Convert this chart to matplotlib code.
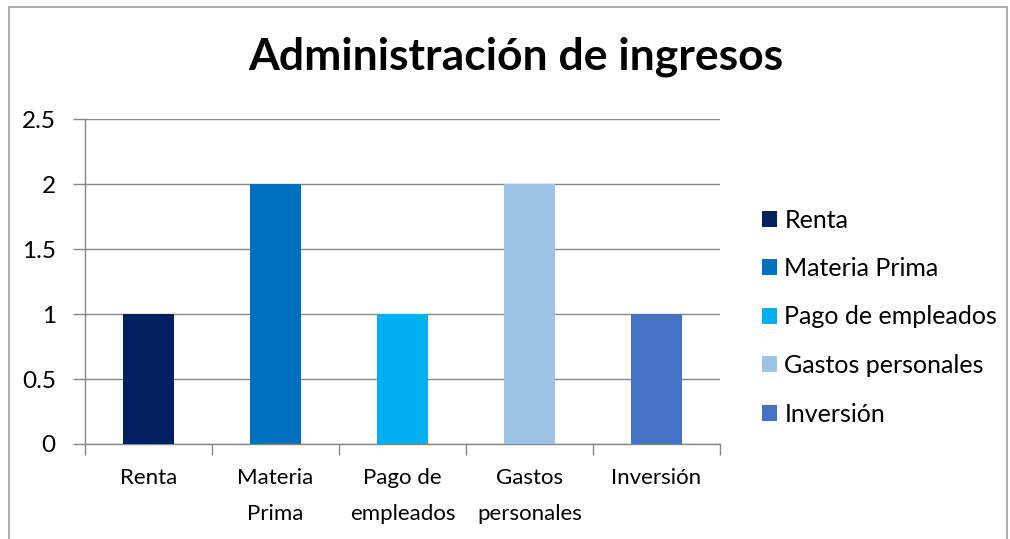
import numpy as np
import matplotlib.pyplot as plt
from matplotlib.patches import Rectangle

categories = ['Renta', 'Materia Prima', 'Pago de empleados', 'Gastos personales', 'Inversión']
tick_labels = ['Renta', 'Materia\nPrima', 'Pago de\nempleados', 'Gastos\npersonales', 'Inversión']
values = [1, 2, 1, 2, 1]
y_ticks = [0, 0.5, 1, 1.5, 2, 2.5]

bar_colors = ['#002060', '#0070C0', '#00B0F0', '#9DC3E6', '#4472C4']

plt.rcParams['font.family'] = ['Lato', 'DejaVu Sans']

fig = plt.figure(figsize=(10.1, 5.39), dpi=100)
W, H = 1010, 539

# chart border
fig.patches.append(Rectangle((9 / W, -0.05), 998 / W, 1.05 - 7 / H, transform=fig.transFigure,
                             fill=False, edgecolor='#A6A6A6', lw=1.3))

ax = fig.add_axes([85 / W, 1 - 444 / H, 635 / W, 325 / H])
x = np.arange(len(categories))
for i, (cat, val) in enumerate(zip(categories, values)):
    ax.bar(x[i], val, width=0.4, color=bar_colors[i], label=cat, zorder=3)

ax.set_xlim(-0.5, len(categories) - 0.5)
ax.set_ylim(0, 2.5)
ax.set_yticks(y_ticks)
ax.set_yticklabels(['0', '0.5', '1', '1.5', '2', '2.5'])
ax.yaxis.grid(True, color='#878787', lw=1.0, zorder=0)
ax.tick_params(axis='y', length=9, color='#878787', width=1.0, labelsize=17.5, pad=12)

# category boundaries as ticks, labels in between
ax.set_xticks(np.arange(len(categories) + 1) - 0.5)
ax.set_xticklabels([])
ax.tick_params(axis='x', which='major', length=8, color='#878787', width=1.0)
ax.set_xticks(x, minor=True)
ax.set_xticklabels(tick_labels, minor=True, fontsize=16)
for t in ax.get_xticklabels(minor=True):
    t.set_linespacing(2.0)
ax.tick_params(axis='x', which='minor', length=0, pad=17)

for s in ['top', 'right']:
    ax.spines[s].set_visible(False)
for s in ['left', 'bottom']:
    ax.spines[s].set_color('#878787')
    ax.spines[s].set_linewidth(1.0)

fig.text(516 / W, 1 - 57 / H, 'Administración de ingresos', ha='center', va='center',
         fontsize=32, fontweight='bold')

leg = ax.legend(loc='center left', bbox_to_anchor=(762 / W, 1 - 317 / H), bbox_transform=fig.transFigure,
                frameon=False, fontsize=18, handlelength=0.6, handleheight=0.6,
                handletextpad=0.3, labelspacing=1.02, borderpad=0, borderaxespad=0)

fig.savefig('out.png', dpi=100)
